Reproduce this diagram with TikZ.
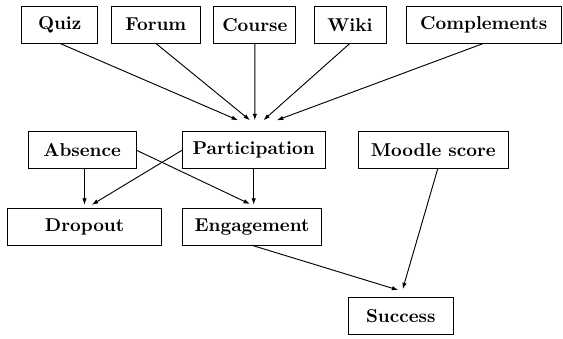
\documentclass[tikz,border=0pt]{standalone}
\usetikzlibrary{arrows.meta}
\begin{document}
\begin{tikzpicture}[
  box/.style = {
    shape = rectangle,
    draw = black,
    line width = 0.5pt,
    minimum height = 20pt,
    inner sep = 2pt,
    outer sep = 0pt,
    font = \bfseries,
  }
]
  \useasboundingbox (0, 0) rectangle (10.638, 6.387);

  \node[box, minimum width = 40.9pt] (quiz) at (1.128, 5.920) {Quiz};
  \node[box, minimum width = 47.5pt] (forum) at (2.944, 5.920) {Forum};
  \node[box, minimum width = 44.2pt] (course) at (4.815, 5.920) {Course};
  \node[box, minimum width = 38.7pt] (wiki) at (6.613, 5.920) {Wiki};
  \node[box, minimum width = 83pt] (compl) at (9.141, 5.920) {Complements};

  \node[box, minimum width = 57.9pt] (absence) at (1.553, 3.552) {Absence};
  \node[box, minimum width = 76.7pt] (partic) at (4.794, 3.552) {Participation};
  \node[box, minimum width = 80.6pt] (moodle) at (8.187, 3.552) {Moodle score};

  \node[box, minimum width = 83pt] (dropout) at (1.597, 2.103) {Dropout};
  \node[box, minimum width = 74.9pt] (engage) at (4.762, 2.103) {Engagement};

  \node[box, minimum width = 56.5pt] (success) at (7.573, 0.410) {Success};

  \begin{scope}[
    every path/.style = {-{Latex[length = 3.5pt, width = 2.4pt]}, line width = 0.5pt}
  ]
    \draw (quiz.south) -- ([xshift = -8.4pt, yshift = 6pt]partic.north);
    \draw (forum.south) -- ([xshift = -2pt, yshift = 6pt]partic.north);
    \draw (course.south) -- ([xshift = 0.6pt, yshift = 6pt]partic.north);
    \draw (wiki.south) -- ([xshift = 5.2pt, yshift = 6pt]partic.north);
    \draw (compl.south) -- ([xshift = 12.4pt, yshift = 6pt]partic.north);

    \draw (absence.south -| dropout.north) -- ([yshift = 1.8pt]dropout.north);
    \draw (partic.west) -- ([xshift = 3.9pt, yshift = 1.8pt]dropout.north);
    \draw (absence.east) -- ([xshift = -1.1pt, yshift = 2.2pt]engage.north);
    \draw (partic.south) -- ([yshift = 1.8pt]partic.south |- engage.north);

    \draw (engage.south) -- ([xshift = -1.3pt, yshift = 4.1pt]success.north);
    \draw ([xshift = 2.4pt]moodle.south) -- ([xshift = 1pt, yshift = 4.5pt]success.north);
  \end{scope}
\end{tikzpicture}
\end{document}
